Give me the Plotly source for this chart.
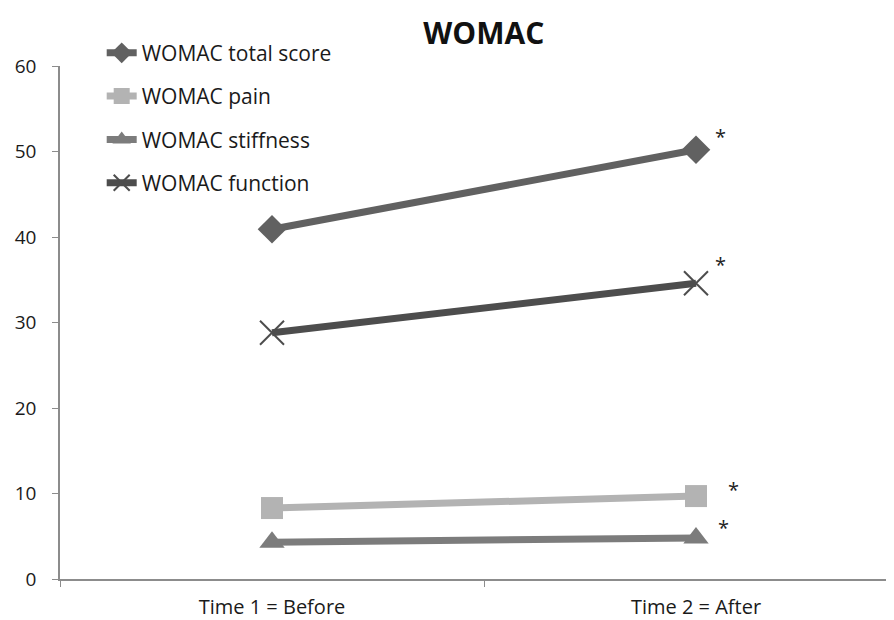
import plotly.graph_objects as go

categories = ["Time 1 = Before", "Time 2 = After"]
series_names = ["WOMAC total score", "WOMAC pain", "WOMAC stiffness", "WOMAC function"]
total_score = [40.9, 50.2]
pain = [8.3, 9.7]
stiffness = [4.3, 4.8]
function = [28.8, 34.6]
significance = ["*", "*", "*", "*"]
y_ticks = [0, 10, 20, 30, 40, 50, 60]

series_values = [total_score, pain, stiffness, function]
styles = [
    dict(color="#616161", symbol="diamond", size=22, lw=7),
    dict(color="#b3b3b3", symbol="square", size=22, lw=7),
    dict(color="#7c7c7c", symbol="triangle-up", size=22, lw=7),
    dict(color="#4d4d4d", symbol="x-thin-open", size=24, lw=7),
]

fig = go.Figure()
for i, (name, vals, st) in enumerate(zip(series_names, series_values, styles)):
    marker = dict(symbol=st["symbol"], size=st["size"], color=st["color"])
    if st["symbol"] == "x-thin-open":
        marker["line"] = dict(color=st["color"], width=2)
    fig.add_trace(go.Scatter(
        x=categories, y=vals, name=name, mode="lines+markers",
        line=dict(color=st["color"], width=st["lw"]),
        marker=marker, legendgroup=f"g{i}",
    ))

# significance asterisks near Time 2 points
shifts = [(25, 13), (38, 7), (28, 10), (25, 19)]
for vals, s, (dx, dy) in zip(series_values, significance, shifts):
    fig.add_annotation(x=categories[1], y=vals[1], text=s, showarrow=False,
                       xshift=dx, yshift=dy, font=dict(size=20, color="#222222",
                       family="Open Sans"))

fig.update_layout(
    width=886, height=612,
    margin=dict(l=52, r=0, t=58, b=41),
    paper_bgcolor="white", plot_bgcolor="white",
    title=dict(text="<b>WOMAC</b>", x=0.537, xanchor="center", y=0.959, yanchor="middle",
               font=dict(size=30, color="#111111", family="Open Sans")),
    font=dict(family="Open Sans", size=19, color="#1a1a1a"),
    legend=dict(x=0.050, y=1.065, xanchor="left", yanchor="top",
                bgcolor="rgba(0,0,0,0)", tracegroupgap=13,
                font=dict(size=21, color="#1a1a1a")),
    showlegend=True,
)
fig.update_xaxes(
    type="category", range=[-0.5, 1.467], showline=True, linecolor="#8c8c8c",
    linewidth=1.5, ticks="outside", tickson="boundaries", ticklen=6,
    tickcolor="#8c8c8c", showgrid=False, zeroline=False, ticklabelstandoff=9,
    tickfont=dict(size=20), automargin=False,
)
fig.update_yaxes(
    range=[0, 60], tickvals=y_ticks, showline=True, linecolor="#8c8c8c",
    linewidth=1.5, ticks="outside", ticklen=6, tickcolor="#8c8c8c",
    showgrid=False, zeroline=False, ticklabelstandoff=12,
    tickfont=dict(size=19),
)

fig.write_html("out.html")
